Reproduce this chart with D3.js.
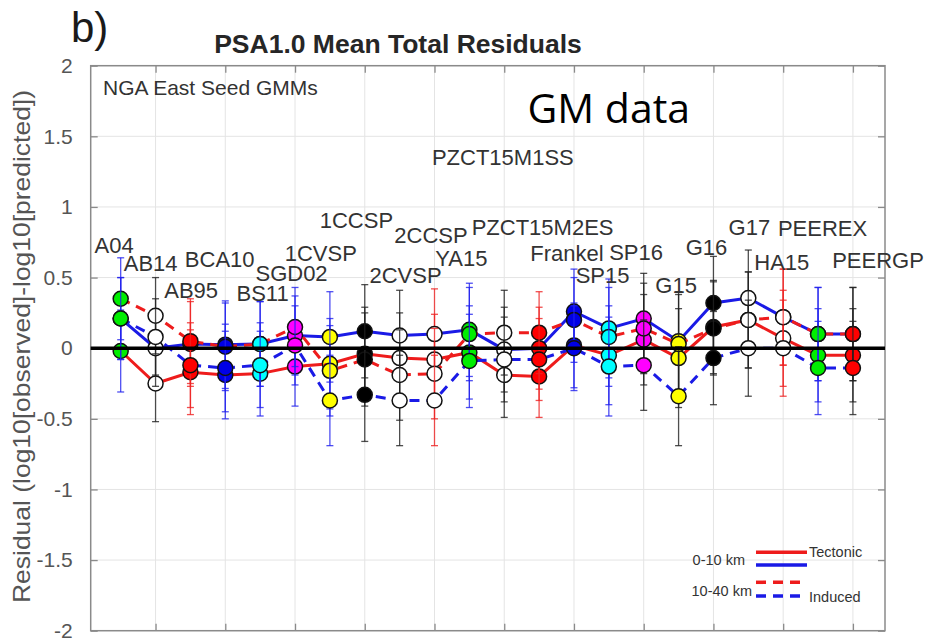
<!DOCTYPE html>
<html>
<head>
<meta charset="utf-8">
<script src="https://cdn.jsdelivr.net/npm/d3@7"></script>
<style>
  html, body { margin: 0; padding: 0; background: #fff; }
  svg { display: block; font-family: 'Liberation Sans', Arial, Helvetica, sans-serif; }
</style>
</head>
<body>
<main></main>
<script>
'use strict'

// seed ground motion models, in plotting order
var gmms = ['A04', 'AB14', 'AB95', 'BCA10', 'BS11', 'SGD02', '1CVSP', '1CCSP', '2CVSP', '2CCSP', 'YA15',
  'PZCT15M1SS', 'PZCT15M2ES', 'Frankel', 'SP15', 'SP16', 'G15', 'G16', 'G17', 'HA15', 'PEEREX', 'PEERGP']

// mean total residuals
var tectonicShallow = [-0.02, -0.25, -0.17, -0.19, -0.18, -0.13, -0.11, -0.04, -0.07, -0.08, -0.03,
  -0.19, -0.20, 0.02, -0.05, 0.06, -0.07, 0.15, 0.20, 0.07, -0.05, -0.05]
var inducedShallow = [0.21, 0.00, 0.03, 0.025, 0.03, 0.09, 0.08, 0.12, 0.09, 0.10, 0.13,
  -0.01, 0.00, 0.26, 0.14, 0.21, 0.05, 0.32, 0.355, 0.22, 0.10, 0.10]
var tectonicDeep = [0.35, 0.23, 0.05, 0.01, 0.03, 0.15, -0.16, -0.08, -0.19, -0.18, 0.10,
  0.11, 0.11, 0.20, 0.08, 0.14, 0.03, 0.14, 0.20, 0.22, 0.10, 0.10]
var inducedDeep = [0.21, 0.08, -0.12, -0.14, -0.12, 0.02, -0.37, -0.33, -0.37, -0.37, -0.09,
  -0.08, -0.08, 0.00, -0.13, -0.12, -0.34, -0.07, 0.00, 0.00, -0.14, -0.14]

// standard deviation of the residuals (error bar half length)
var sigma = [0.29, 0.27, 0.30, 0.31, 0.30, 0.28, 0.32, 0.33, 0.32, 0.32, 0.33,
  0.30, 0.29, 0.30, 0.35, 0.32, 0.35, 0.33, 0.34, 0.34, 0.33, 0.33]

// where each model name was written, in axis units
var labelX = [0.81, 1.86, 3.02, 3.84, 5.07, 5.9, 6.74, 7.76, 9.17, 9.9, 10.77,
  11.96, 13.1, 13.8, 14.82, 15.78, 16.93, 17.8, 19.03, 19.96, 21.13, 22.72]
var labelY = [0.674, 0.549, 0.355, 0.577, 0.331, 0.478, 0.615, 0.853, 0.462, 0.745, 0.579,
  1.30, 0.804, 0.615, 0.462, 0.627, 0.391, 0.662, 0.804, 0.556, 0.792, 0.568]

var yTicks = [-2, -1.5, -1, -0.5, 0, 0.5, 1, 1.5, 2]
var xTicks = [2, 4, 6, 8, 10, 12, 14, 16, 18, 20, 22]

// marker face and error bar colour of each model
var faceColors = ['#00ee00', '#ffffff', '#ff0000', '#0000e6', '#00ffff', '#ff00ff', '#ffff00', '#000000', '#ffffff', '#ffffff', '#00ee00',
  '#ffffff', '#ff0000', '#0000e6', '#00ffff', '#ff00ff', '#ffff00', '#000000', '#ffffff', '#ffffff', '#00ee00', '#ff0000']
var barColors = ['#2222ee', '#222222', '#ee2222', '#2222ee', '#2222ee', '#2222ee', '#2222ee', '#222222', '#222222', '#ee2222', '#2222ee',
  '#222222', '#ee2222', '#2222ee', '#2222ee', '#222222', '#222222', '#222222', '#222222', '#ee2222', '#2222ee', '#222222']

var RED = '#ee1c1c'
var BLUE = '#1a1ae6'
var DASH = '10,7'

var opts = {
  width: 925,
  height: 641,
  left: 90.7,
  top: 65.7,
  right: 885,
  bottom: 630.7,
  radius: 7.5,
  cap: 3.5
}

var series = [
  { values: tectonicShallow, color: RED, dash: null },
  { values: inducedShallow, color: BLUE, dash: null },
  { values: tectonicDeep, color: RED, dash: DASH },
  { values: inducedDeep, color: BLUE, dash: DASH }
]

var svg = d3.select('main').append('svg')
  .attr('width', opts.width)
  .attr('height', opts.height)

var x = d3.scaleLinear().domain([0.14, 22.92]).range([opts.left, opts.right])
var y = d3.scaleLinear().domain([-2, 2]).range([opts.bottom, opts.top])
var pw = opts.right - opts.left
var ph = opts.bottom - opts.top

// grid
var grid = svg.append('g').attr('class', 'grid')
grid.selectAll('line.gx').data(xTicks).enter().append('line')
  .attr('x1', function (d) { return x(d) }).attr('x2', function (d) { return x(d) })
  .attr('y1', opts.top).attr('y2', opts.bottom)
  .attr('stroke', '#e4e4e4').attr('stroke-width', 1)
grid.selectAll('line.gy').data(yTicks).enter().append('line')
  .attr('y1', function (d) { return y(d) }).attr('y2', function (d) { return y(d) })
  .attr('x1', opts.left).attr('x2', opts.right)
  .attr('stroke', '#e4e4e4').attr('stroke-width', 1)

// axes, ticks pointing inwards on all four sides
function styleAxis (g) {
  g.select('.domain').remove()
  g.selectAll('.tick line').attr('stroke', '#8a8a8a').attr('stroke-width', 1.3)
  g.selectAll('.tick text').attr('fill', '#555').attr('font-size', 21)
    .attr('font-family', "'Liberation Sans', Arial, sans-serif")
}

svg.append('g')
  .attr('transform', 'translate(' + opts.left + ',0)')
  .call(d3.axisLeft(y).tickValues(yTicks).tickSize(-7).tickPadding(18)
    .tickFormat(function (d) { return String(d) }))
  .call(styleAxis)
svg.append('g')
  .attr('transform', 'translate(' + opts.right + ',0)')
  .call(d3.axisRight(y).tickValues(yTicks).tickSize(-7).tickFormat(''))
  .call(styleAxis)
svg.append('g')
  .attr('transform', 'translate(0,' + opts.top + ')')
  .call(d3.axisTop(x).tickValues(xTicks).tickSize(-7).tickFormat(''))
  .call(styleAxis)
svg.append('g')
  .attr('transform', 'translate(0,' + opts.bottom + ')')
  .call(d3.axisBottom(x).tickValues(xTicks).tickSize(-7).tickFormat(''))
  .call(styleAxis)

svg.append('rect')
  .attr('x', opts.left).attr('y', opts.top)
  .attr('width', pw).attr('height', ph)
  .attr('fill', 'none').attr('stroke', '#8a8a8a').attr('stroke-width', 1.5)

// residual series: error bars, connecting line, markers
var line = d3.line()
  .x(function (d, i) { return x(i + 1) })
  .y(function (d) { return y(d) })

series.forEach(function (s) {
  var g = svg.append('g')

  var bars = g.selectAll('g.bar').data(s.values).enter().append('g')
    .attr('stroke', function (d, i) { return barColors[i] })
    .attr('stroke-width', 1.3)
    .attr('stroke-opacity', 0.8)
  bars.append('line')
    .attr('x1', function (d, i) { return x(i + 1) })
    .attr('x2', function (d, i) { return x(i + 1) })
    .attr('y1', function (d, i) { return y(d - sigma[i]) })
    .attr('y2', function (d, i) { return y(d + sigma[i]) })
  ;[-1, 1].forEach(function (sgn) {
    bars.append('line')
      .attr('x1', function (d, i) { return x(i + 1) - opts.cap })
      .attr('x2', function (d, i) { return x(i + 1) + opts.cap })
      .attr('y1', function (d, i) { return y(d + sgn * sigma[i]) })
      .attr('y2', function (d, i) { return y(d + sgn * sigma[i]) })
  })

  g.append('path')
    .attr('d', line(s.values))
    .attr('fill', 'none')
    .attr('stroke', s.color)
    .attr('stroke-width', 3)
    .attr('stroke-dasharray', s.dash)

  g.selectAll('circle').data(s.values).enter().append('circle')
    .attr('cx', function (d, i) { return x(i + 1) })
    .attr('cy', function (d) { return y(d) })
    .attr('r', opts.radius)
    .attr('fill', function (d, i) { return faceColors[i] })
    .attr('stroke', '#111')
    .attr('stroke-width', 1.5)
})

// zero line on top
svg.append('line')
  .attr('x1', opts.left).attr('x2', opts.right)
  .attr('y1', y(0)).attr('y2', y(0))
  .attr('stroke', '#000').attr('stroke-width', 3.5)

// model names
svg.append('g').selectAll('text').data(gmms).enter().append('text')
  .attr('x', function (d, i) { return x(labelX[i]) })
  .attr('y', function (d, i) { return y(labelY[i]) })
  .attr('text-anchor', 'middle')
  .attr('font-size', 22)
  .attr('fill', '#333')
  .text(function (d) { return d })

// titles and annotations
svg.append('text')
  .attr('x', 71).attr('y', 42)
  .attr('font-size', 42).attr('fill', '#1a1a1a')
  .text('b)')

svg.append('text')
  .attr('x', 398).attr('y', 52.5)
  .attr('text-anchor', 'middle')
  .attr('font-size', 26.5).attr('font-weight', 'bold').attr('fill', '#262626')
  .text('PSA1.0 Mean Total Residuals')

svg.append('text')
  .attr('x', 103).attr('y', 95)
  .attr('font-size', 21).attr('fill', '#333')
  .text('NGA East Seed GMMs')

svg.append('text')
  .attr('x', 527.5).attr('y', 122.5)
  .attr('font-family', "'Open Sans', sans-serif")
  .attr('font-size', 41).attr('fill', '#000')
  .text('GM data')

svg.append('text')
  .attr('transform', 'translate(30,346.5) rotate(-90)')
  .attr('text-anchor', 'middle')
  .attr('font-size', 24).attr('fill', '#555')
  .attr('textLength', 513).attr('lengthAdjust', 'spacingAndGlyphs')
  .text('Residual (log10[observed]-log10[predicted])')

// legend
var legend = svg.append('g').attr('class', 'legend')
var legendLines = [
  { y: 552.3, color: RED, dash: null },
  { y: 565, color: BLUE, dash: null },
  { y: 582.3, color: RED, dash: DASH },
  { y: 596, color: BLUE, dash: DASH }
]
legend.selectAll('line').data(legendLines).enter().append('line')
  .attr('x1', 756).attr('x2', 807)
  .attr('y1', function (d) { return d.y }).attr('y2', function (d) { return d.y })
  .attr('stroke', function (d) { return d.color })
  .attr('stroke-width', 3.5)
  .attr('stroke-dasharray', function (d) { return d.dash })

var legendTexts = [
  { x: 745, y: 565, anchor: 'end', text: '0-10 km' },
  { x: 752, y: 595.5, anchor: 'end', text: '10-40 km' },
  { x: 809, y: 556.5, anchor: 'start', text: 'Tectonic' },
  { x: 809, y: 601.5, anchor: 'start', text: 'Induced' }
]
legend.selectAll('text').data(legendTexts).enter().append('text')
  .attr('x', function (d) { return d.x })
  .attr('y', function (d) { return d.y })
  .attr('text-anchor', function (d) { return d.anchor })
  .attr('font-size', 14.5)
  .attr('fill', '#333')
  .text(function (d) { return d.text })
</script>
</body>
</html>
